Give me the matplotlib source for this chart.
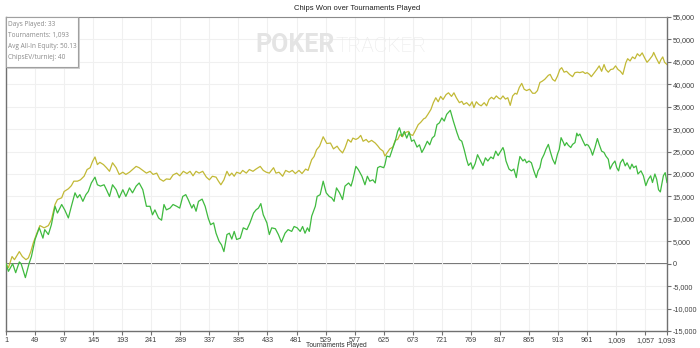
import matplotlib
matplotlib.use("Agg")
import matplotlib.pyplot as plt
from matplotlib.patches import Rectangle
from matplotlib.ticker import FixedLocator, FuncFormatter

# Wygrane żetony (zielona linia) - numer turnieju i stan po nim
won_t = [1, 5, 12, 17, 23, 26, 33, 39, 43, 49, 56, 62, 65, 71, 76, 82, 86, 93, 98,
         104, 109, 115, 119, 123, 128, 133, 137, 142, 148, 152, 157, 163, 167, 172,
         177, 183, 188, 194, 199, 205, 210, 216, 221, 227, 233, 239, 243, 247, 253,
         258, 262, 266, 272, 277, 283, 288, 293, 298, 302, 308, 311, 315, 319, 325,
         330, 335, 339, 344, 348, 353, 357, 361, 366, 370, 374, 378, 382, 388, 393,
         399, 404, 410, 414, 418, 422, 426, 432, 436, 440, 446, 451, 456, 462, 467,
         473, 477, 482, 487, 491, 495, 499, 502, 506, 512, 515, 520, 525, 530, 535,
         539, 543, 547, 552, 557, 561, 567, 571, 574, 579, 583, 589, 594, 598, 602,
         607, 611, 615, 619, 625, 627, 630, 635, 640, 644, 648, 651, 655, 659, 663,
         667, 671, 675, 680, 684, 688, 692, 697, 701, 705, 709, 713, 717, 721, 725,
         729, 735, 740, 746, 750, 754, 758, 762, 765, 769, 772, 776, 780, 784, 789,
         793, 797, 802, 806, 810, 814, 817, 822, 824, 827, 832, 836, 840, 844, 847,
         850, 855, 858, 861, 865, 869, 873, 877, 880, 883, 886, 890, 893, 897, 900,
         904, 908, 912, 915, 918, 922, 924, 927, 930, 934, 937, 941, 944, 946, 949,
         954, 958, 960, 963, 967, 970, 974, 978, 981, 985, 989, 992, 996, 999, 1003,
         1007, 1010, 1013, 1016, 1020, 1024, 1027, 1032, 1035, 1038, 1042, 1045,
         1050, 1054, 1058, 1062, 1066, 1069, 1073, 1076, 1079, 1082, 1087, 1090, 1093]
won_v = [0, -1700, 0, -2000, 400, 0, -3100, 0, 1600, 5400, 8000, 5700, 7600, 6500,
         8700, 12800, 11300, 13200, 12000, 10200, 12800, 15800, 14700, 15400, 13900,
         15400, 16100, 18000, 19300, 17600, 17300, 17600, 16500, 15000, 17600, 16500,
         14700, 16500, 15000, 16900, 15800, 17300, 18000, 16500, 12800, 12800, 10900,
         12000, 10200, 9700, 13200, 12000, 12400, 13200, 12800, 12400, 15000, 15400,
         14300, 12400, 13200, 11700, 13900, 14400, 12800, 10200, 8700, 9100, 6800,
         5000, 4200, 2700, 6500, 6800, 5500, 7200, 5400, 5700, 8000, 7600, 9100,
         11300, 12000, 12400, 13400, 10900, 9100, 6500, 8000, 7800, 6500, 4800, 6800,
         7600, 7200, 8300, 8000, 7200, 8300, 6800, 8000, 7200, 10600, 12800, 15000,
         15400, 18400, 15800, 15000, 14700, 13900, 16900, 15800, 14300, 17300, 18000,
         17300, 18700, 21700, 21000, 19500, 17600, 19500, 18400, 18700, 18000, 21400,
         21700, 21400, 22100, 24000, 23800, 25800, 27300, 29500, 30300, 28400, 29500,
         28000, 29300, 27300, 27600, 26000, 26500, 24800, 25800, 27300, 26500, 28000,
         28500, 31000, 31400, 32500, 31800, 33300, 34200, 31800, 29200, 27700, 27300,
         25400, 23200, 21900, 22500, 21100, 22300, 24300, 23200, 21900, 23600, 22900,
         23800, 23400, 25100, 24100, 24800, 25900, 25100, 22900, 21100, 20700, 21100,
         19200, 21800, 23900, 22900, 23300, 22500, 22900, 22500, 20700, 19200, 20700,
         21400, 23300, 24400, 25500, 26600, 25100, 23300, 22200, 24400, 25500, 28100,
         27000, 26300, 27000, 26400, 25900, 26600, 27000, 29100, 28500, 28900, 27400,
         26300, 26600, 26400, 25400, 24200, 25900, 27900, 26600, 25100, 24800, 24000,
         23300, 21100, 22200, 22900, 21400, 20700, 22500, 23300, 21800, 22500, 21100,
         22200, 21400, 21800, 20000, 20700, 19600, 17400, 18800, 19600, 18100, 20000,
         18800, 16500, 16000, 19600, 20300, 18100]

# Oczekiwane żetony wg all-in EV (oliwkowa linia)
ev_t = [1, 5, 11, 15, 23, 28, 34, 38, 42, 46, 52, 57, 64, 71, 76, 82, 86, 93, 97,
        104, 109, 113, 119, 124, 130, 135, 140, 144, 148, 152, 156, 162, 167, 172,
        177, 183, 188, 194, 199, 205, 210, 216, 221, 227, 233, 239, 244, 250, 255,
        261, 266, 272, 277, 283, 288, 294, 300, 305, 310, 315, 320, 326, 332, 337,
        342, 348, 352, 356, 361, 366, 370, 374, 378, 382, 388, 392, 398, 403, 409,
        414, 421, 426, 431, 436, 443, 447, 452, 458, 463, 469, 474, 479, 485, 490,
        496, 500, 506, 510, 514, 519, 525, 531, 537, 542, 548, 552, 557, 561, 566,
        571, 574, 579, 583, 587, 591, 596, 600, 605, 611, 615, 619, 624, 627, 631,
        635, 640, 644, 648, 652, 656, 660, 666, 669, 673, 678, 682, 686, 691, 694,
        698, 703, 707, 711, 715, 719, 723, 728, 732, 737, 741, 745, 750, 754, 757,
        762, 767, 771, 774, 778, 782, 786, 791, 795, 799, 803, 807, 811, 815, 818,
        822, 826, 830, 834, 838, 842, 845, 849, 853, 857, 861, 866, 871, 875, 879,
        883, 887, 891, 897, 900, 904, 908, 912, 916, 919, 923, 927, 932, 937, 941,
        945, 949, 954, 958, 961, 965, 968, 973, 977, 981, 985, 989, 992, 996, 1000,
        1004, 1008, 1012, 1016, 1020, 1025, 1028, 1032, 1036, 1040, 1044, 1048,
        1052, 1056, 1060, 1064, 1069, 1071, 1075, 1080, 1083, 1086, 1089, 1093]
ev_v = [0, -900, 1600, 900, 2700, 1600, 900, 1300, 2700, 4600, 6800, 8500, 8000,
        8500, 9800, 13200, 14300, 14700, 16100, 16700, 17400, 18400, 18400, 18700,
        19500, 21000, 21400, 22800, 23800, 22100, 22600, 22100, 21400, 20600, 22500,
        21400, 19900, 20400, 19900, 20400, 21000, 21700, 21400, 20800, 20200, 20600,
        19900, 20200, 18900, 18400, 18900, 18800, 19800, 20200, 19600, 20600, 20100,
        20600, 19600, 20600, 20200, 20600, 19300, 18700, 19500, 19300, 18400, 17600,
        18700, 20600, 19600, 20200, 19500, 20400, 20100, 20800, 20200, 21000, 20600,
        21100, 21700, 20800, 20400, 20200, 21400, 20200, 20400, 19500, 20800, 20400,
        20800, 20100, 20800, 20100, 21100, 20800, 23200, 23900, 25400, 26200, 28300,
        26800, 26900, 25600, 26200, 25400, 24700, 25800, 27700, 27100, 28000, 27700,
        28000, 28600, 27300, 27700, 27100, 27500, 26900, 26300, 25600, 25100, 24000,
        24800, 25600, 26000, 27500, 27700, 28800, 28300, 29200, 29500, 28800, 28600,
        29900, 31000, 31500, 32300, 32500, 33300, 34400, 35900, 37000, 36100, 37300,
        36600, 37700, 38100, 37300, 38100, 37000, 35900, 36200, 35500, 35900, 35200,
        36100, 34800, 36100, 35500, 35200, 35900, 35200, 36600, 37100, 36700, 37400,
        36900, 36700, 37400, 36700, 37000, 35300, 37400, 38000, 37800, 39300, 40200,
        38900, 38600, 38900, 38000, 38000, 38600, 40400, 40700, 41100, 42000, 42200,
        41100, 40700, 41800, 43300, 43700, 42700, 42900, 42200, 41700, 42600, 42700,
        42600, 42800, 42400, 42600, 42200, 41700, 42600, 43300, 44100, 42900, 44400,
        43300, 42700, 43300, 43400, 44100, 43300, 42900, 42200, 44800, 45700, 45200,
        46100, 45700, 46800, 46300, 47000, 45900, 44900, 45500, 46400, 47100, 45900,
        44600, 45500, 46100, 44900, 44400]

x_ticks = [1, 49, 97, 145, 193, 241, 289, 337, 385, 433, 481, 529, 577, 625, 673,
           721, 769, 817, 865, 913, 961, 1009, 1057, 1093]
y_ticks = [-15000, -10000, -5000, 0, 5000, 10000, 15000, 20000, 25000, 30000,
           35000, 40000, 45000, 50000, 55000]
info_lines = ["Days Played: 33", "Tournaments: 1,093",
              "Avg All-In Equity: 50.13", "ChipsEV/turniej: 40"]

W, H = 700, 348
fig = plt.figure(figsize=(W / 100, H / 100), dpi=100)
fig.patch.set_facecolor("white")

# obszar wykresu w pikselach: x 6..667, y 17..331
ax = fig.add_axes([6 / W, 1 - 331 / H, 661 / W, 314 / H])
ax.set_xlim(1, 1093)
ax.set_ylim(-15000, 55000)

ax.grid(True, color="#f0f0f0", lw=0.8, zorder=0)
ax.axhline(0, color="#707070", lw=1.4, zorder=1)

ax.plot(ev_t, ev_v, color="#c2b936", lw=0.9, zorder=3)
ax.plot(won_t, won_v, color="#3fba3f", lw=0.9, zorder=4)

ax.xaxis.set_major_locator(FixedLocator(x_ticks))
ax.yaxis.set_major_locator(FixedLocator(y_ticks))
fmt = FuncFormatter(lambda v, p: f"{int(round(v)):,}")
ax.xaxis.set_major_formatter(fmt)
ax.yaxis.set_major_formatter(fmt)
ax.yaxis.tick_right()
ax.tick_params(axis="both", length=3, width=0.8, color="#707070",
               labelsize=5.2, labelcolor="#404040", pad=1)
for lab in ax.get_xticklabels() + ax.get_yticklabels():
    lab.set_fontfamily("Liberation Sans")

for side in ["left", "bottom", "right"]:
    ax.spines[side].set_color("#707070")
    ax.spines[side].set_linewidth(1.0)
ax.spines["top"].set_color("#8a8a8a")
ax.spines["top"].set_linewidth(0.8)

ax.set_xlabel("Tournaments Played", fontsize=4.8, family="Liberation Sans",
              color="#303030", labelpad=-0.8)

fig.text(357 / W, 1 - 8 / H, "Chips Won over Tournaments Played", ha="center",
         va="center", fontsize=5.5, family="Liberation Sans", color="#202020")

# znak wodny: pogrubione POKER, zaraz za nim cienkie TRACKER
wm_poker = fig.text(255 / W, 1 - 52 / H, "POKER", ha="left", va="baseline",
                    fontsize=18, family="Roboto", weight="bold",
                    color="#e4e4e4", zorder=0)
fig.canvas.draw()
bb = wm_poker.get_window_extent()
fig.text(bb.x1 / W + 1 / W, 1 - 52 / H, "TRACKER", ha="left", va="baseline",
         fontsize=15, family="Roboto", weight="light",
         color="#eaeaea", zorder=0)

# ramka z podsumowaniem
shadow = Rectangle((7 / W, 1 - 69 / H), 73 / W, 51 / H, transform=fig.transFigure,
                   facecolor="#d0d0d0", edgecolor="none", zorder=5)
box = Rectangle((6 / W, 1 - 67 / H), 72 / W, 50 / H, transform=fig.transFigure,
                facecolor="white", edgecolor="#a0a0a0", lw=0.8, zorder=6)
fig.patches.extend([shadow, box])
for i, line in enumerate(info_lines):
    fig.text(8.5 / W, 1 - (24.5 + i * 11) / H, line, ha="left", va="center",
             fontsize=4.7, family="Open Sans", color="#8a8a8a", zorder=7)

fig.savefig("out.png", dpi=100)
